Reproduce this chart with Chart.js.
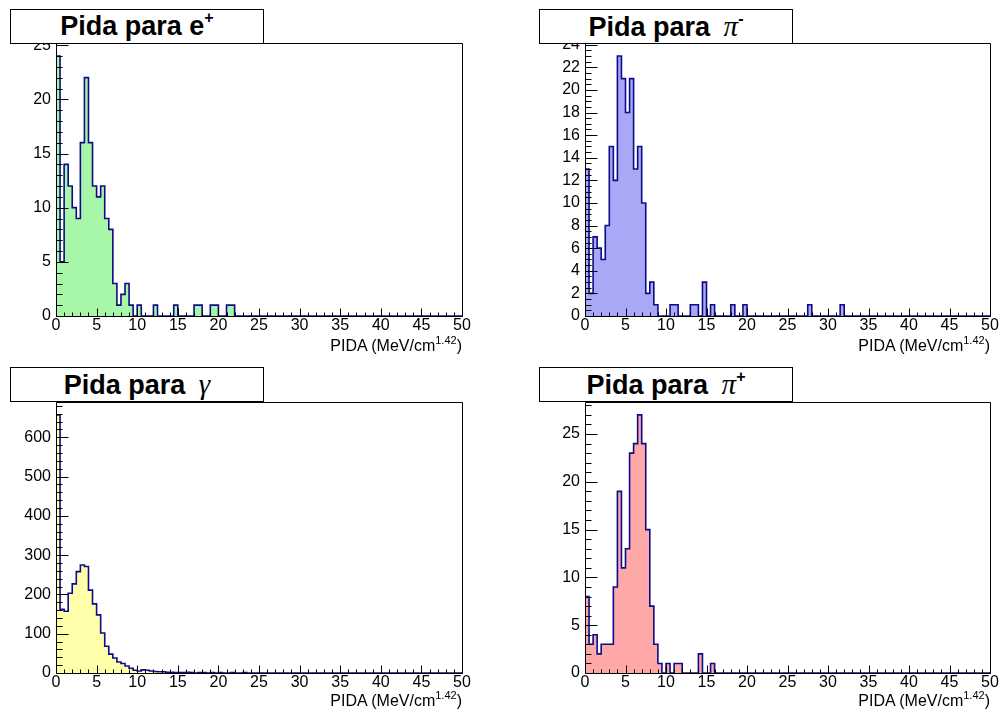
<!DOCTYPE html>
<html>
<head>
<meta charset="utf-8">
<script src="https://cdn.jsdelivr.net/npm/chart.js@4.4.1/dist/chart.umd.min.js"></script>
<style>
html,body{margin:0;padding:0;background:#fff;}
body{width:1000px;height:710px;position:relative;overflow:hidden;font-family:"Liberation Sans",Arial,sans-serif;color:#000;}
.pad{position:absolute;width:500px;height:355px;}
.pad canvas{position:absolute;left:0;top:0;}
.tbox{position:absolute;box-sizing:border-box;width:254px;height:35px;border:1px solid #000;background:#fff;
  font-weight:bold;font-size:27px;line-height:33px;text-align:center;white-space:nowrap;z-index:5;}
.tbox sup{font-size:16px;vertical-align:baseline;position:relative;top:-12px;}
.gk{font-family:"Liberation Serif","Times New Roman",serif;font-style:italic;font-weight:normal;font-size:29px;margin-left:6px;}
.xt{position:absolute;font-size:16px;line-height:16px;white-space:nowrap;text-align:right;z-index:5;}
.xt sup{font-size:11px;vertical-align:baseline;position:relative;top:-7px;}
</style>
</head>
<body>
<div class="pad" style="left:0;top:0"><canvas id="c1"></canvas></div>
<div class="pad" style="left:500px;top:0"><canvas id="c2"></canvas></div>
<div class="pad" style="left:0;top:355px"><canvas id="c3"></canvas></div>
<div class="pad" style="left:500px;top:355px"><canvas id="c4"></canvas></div>

<div class="tbox" style="left:10px;top:9px">Pida para e<sup>+</sup></div>
<div class="tbox" style="left:539px;top:9px">Pida para <span class="gk">π</span><sup>-</sup></div>
<div class="tbox" style="left:10px;top:367px">Pida para <span class="gk">γ</span></div>
<div class="tbox" style="left:539px;top:367px">Pida para <span class="gk">π</span><sup>+</sup></div>

<div class="xt" style="right:538px;top:338px">PIDA (MeV/cm<sup>1.42</sup>)</div>
<div class="xt" style="right:10px;top:338px">PIDA (MeV/cm<sup>1.42</sup>)</div>
<div class="xt" style="right:538px;top:693px">PIDA (MeV/cm<sup>1.42</sup>)</div>
<div class="xt" style="right:10px;top:693px">PIDA (MeV/cm<sup>1.42</sup>)</div>

<script>
// ---- data: counts per 0.5-wide bin starting at PIDA = 0 (bins beyond listed are empty) ----
const X_MIN = 0;
const X_MAX = 50;
const BIN_WIDTH = 0.5;
const X_TICKS_MAJOR = 5;

const countsEplus = [
  24, 5, 14, 12, 10, 9, 16, 22, 16, 12,
  11, 12, 9, 8, 3, 1, 2, 3, 1, 0,
  1, 0, 0, 0, 1, 0, 0, 0, 0, 1,
  0, 0, 0, 0, 1, 1, 0, 0, 1, 1,
  0, 0, 1, 1
];
const countsPiMinus = [
  13, 2, 7, 6, 5, 8, 15, 12, 23, 21,
  18, 21, 13, 15, 10, 2, 3, 1, 0, 0,
  0, 1, 1, 0, 0, 0, 1, 1, 0, 3,
  0, 1, 0, 0, 0, 0, 1, 0, 0, 1,
  0, 0, 0, 0, 0, 0, 0, 0, 0, 0,
  0, 0, 0, 0, 0, 1, 0, 0, 0, 0,
  0, 0, 0, 1
];
const countsGamma = [
  657, 162, 157, 203, 227, 258, 275, 271, 211, 176,
  148, 102, 68, 48, 38, 28, 24, 18, 12, 7,
  5, 8, 7, 5, 4, 3, 3, 2, 2, 1,
  1, 1, 2, 1, 0, 1, 1, 0, 1, 0,
  1, 0, 0, 1, 0, 0, 1
];
const countsPiPlus = [
  8, 3, 4, 2, 3, 3, 3, 9, 19, 11,
  13, 23, 24, 27, 24, 15, 7, 3, 1, 0,
  1, 0, 1, 1, 0, 0, 0, 0, 2, 0,
  0, 1
];

const LINE_COLOR = '#0c0c8a';
const FILL_EPLUS = 'rgb(168,246,168)';
const FILL_PIMINUS = 'rgb(168,168,246)';
const FILL_GAMMA = 'rgb(255,255,170)';
const FILL_PIPLUS = 'rgb(255,168,168)';

const FONT = {family: '"Liberation Sans", Arial, sans-serif', size: 16};

function histPoints(counts) {
  const nb = Math.round((X_MAX - X_MIN) / BIN_WIDTH);
  const pts = [{x: X_MIN, y: 0}];
  for (let i = 0; i < nb; i++) {
    pts.push({x: X_MIN + i * BIN_WIDTH, y: counts[i] || 0});
  }
  pts.push({x: X_MAX, y: counts[nb - 1] || 0});
  pts.push({x: X_MAX, y: 0});
  return pts;
}

const rootAxes = {
  id: 'rootAxes',
  afterDatasetsDraw(chart, args, o) {
    const {ctx, chartArea: a, scales: {x, y}} = chart;
    ctx.save();
    ctx.strokeStyle = '#000';
    ctx.lineWidth = 1;
    const L = Math.round(a.left) + 0.5, T = Math.round(a.top) + 0.5;
    const R = Math.round(a.right) + 0.5, B = Math.round(a.bottom) + 0.5;
    ctx.beginPath();
    ctx.rect(L, T, R - L, B - T);
    const nx = Math.round((x.max - x.min) / o.xMinor);
    for (let i = 0; i <= nx; i++) {
      const v = x.min + i * o.xMinor;
      const px = Math.round(x.getPixelForValue(v)) + 0.5;
      const major = Math.abs(v / o.xMajor - Math.round(v / o.xMajor)) < 1e-6;
      ctx.moveTo(px, B);
      ctx.lineTo(px, B - (major ? 8 : 4));
    }
    const ny = Math.floor((y.max - y.min) / o.yMinor + 1e-6);
    for (let i = 0; i <= ny; i++) {
      const v = y.min + i * o.yMinor;
      const py = Math.round(y.getPixelForValue(v)) + 0.5;
      const major = Math.abs(v / o.yMajor - Math.round(v / o.yMajor)) < 1e-6;
      ctx.moveTo(L, py);
      ctx.lineTo(L + (major ? 12 : 6), py);
    }
    ctx.stroke();
    ctx.restore();
  }
};

function makeChart(id, counts, fillColor, yMajor, yMinor, area) {
  const yMax = 1.05 * Math.max(...counts);
  return new Chart(document.getElementById(id), {
    type: 'line',
    data: {
      datasets: [{
        data: histPoints(counts),
        stepped: true,
        borderColor: LINE_COLOR,
        borderWidth: 1.6,
        backgroundColor: fillColor,
        fill: 'origin',
        pointRadius: 0,
        tension: 0
      }]
    },
    options: {
      responsive: true,
      maintainAspectRatio: false,
      animation: false,
      events: [],
      layout: {padding: {left: 0, top: area.top, right: 500 - area.right, bottom: 0}},
      plugins: {
        legend: {display: false},
        tooltip: {enabled: false},
        rootAxes: {xMajor: X_TICKS_MAJOR, xMinor: 1, yMajor: yMajor, yMinor: yMinor}
      },
      scales: {
        x: {
          type: 'linear', min: X_MIN, max: X_MAX,
          grid: {display: false, drawTicks: false},
          border: {display: false},
          ticks: {stepSize: X_TICKS_MAJOR, autoSkip: false, maxRotation: 0, includeBounds: false,
                  padding: 0, color: '#000', font: FONT, callback: v => String(v)},
          afterFit(s) { s.height = 355 - area.bottom; }
        },
        y: {
          type: 'linear', min: 0, max: yMax,
          grid: {display: false, drawTicks: false},
          border: {display: false},
          ticks: {stepSize: yMajor, autoSkip: false, includeBounds: false,
                  padding: 5, color: '#000', font: FONT, callback: v => String(v)},
          afterFit(s) { s.width = area.left; }
        }
      }
    },
    plugins: [rootAxes]
  });
}

makeChart('c1', countsEplus, FILL_EPLUS, 5, 1, {left: 56, right: 462, top: 43, bottom: 316});
makeChart('c2', countsPiMinus, FILL_PIMINUS, 2, 0.5, {left: 85, right: 490, top: 43, bottom: 316});
makeChart('c3', countsGamma, FILL_GAMMA, 100, 20, {left: 56, right: 462, top: 47, bottom: 318});
makeChart('c4', countsPiPlus, FILL_PIPLUS, 5, 1, {left: 85, right: 490, top: 47, bottom: 318});
</script>
</body>
</html>
